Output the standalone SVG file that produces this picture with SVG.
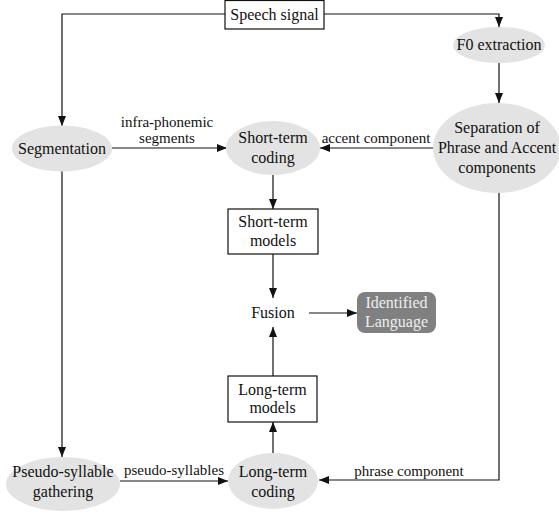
<svg xmlns="http://www.w3.org/2000/svg" width="559" height="514" viewBox="0 0 559 514">
<style>
text{fill:#111;text-anchor:middle}
.n{font-size:16px}
.l{font-size:15px}
.ell{fill:#e3e3e3;stroke:none}
.box{fill:#fff;stroke:#111;stroke-width:1.2}
.c{fill:none;stroke:#111;stroke-width:1.2;marker-end:url(#ah)}
</style>
<defs>
<marker id="ah" viewBox="0 0 10 8" refX="10" refY="4" markerWidth="10" markerHeight="8" markerUnits="userSpaceOnUse" orient="auto">
<path d="M0,0 L10,4 L0,8 z" fill="#111"/>
</marker>
</defs>
<g font-family="Liberation Serif, Times New Roman, serif">
<g id="connectors">
<path class="c" d="M225,14 H62 V126"/>
<path class="c" d="M324,14 H499 V27"/>
<path class="c" d="M499,63 V103"/>
<path class="c" d="M112,148 H227"/>
<path class="c" d="M433,148 H320"/>
<path class="c" d="M273,175 V209"/>
<path class="c" d="M273,254 V298"/>
<path class="c" d="M309,313 H357"/>
<path class="c" d="M273,376 V327"/>
<path class="c" d="M273,453 V422"/>
<path class="c" d="M62,171 V457"/>
<path class="c" d="M120,481 H228"/>
<path class="c" d="M499,193 V480 H319"/>
<text class="l" x="167" y="127">infra-phonemic</text>
<text class="l" x="167" y="143">segments</text>
<text class="l" x="376" y="143">accent component</text>
<text class="l" x="174" y="475">pseudo-syllables</text>
<text class="l" x="409" y="476">phrase component</text>
</g>
<g id="speech">
<rect class="box" x="225" y="0.5" width="99" height="28.5"/>
<text class="n" x="274.5" y="20">Speech signal</text>
</g>
<g id="f0">
<ellipse class="ell" cx="499" cy="45" rx="46" ry="18"/>
<text class="n" x="499" y="50">F0 extraction</text>
</g>
<g id="separation">
<ellipse class="ell" cx="497" cy="148" rx="64" ry="45"/>
<text class="n" x="497" y="133">Separation of</text>
<text class="n" x="497" y="153">Phrase and Accent</text>
<text class="n" x="497" y="173">components</text>
</g>
<g id="segmentation">
<ellipse class="ell" cx="62" cy="148.5" rx="50" ry="23"/>
<text class="n" x="62" y="154">Segmentation</text>
</g>
<g id="stcoding">
<ellipse class="ell" cx="273" cy="148" rx="47" ry="27"/>
<text class="n" x="273" y="143">Short-term</text>
<text class="n" x="273" y="163">coding</text>
</g>
<g id="stmodels">
<rect class="box" x="228" y="209" width="90" height="45"/>
<text class="n" x="273" y="227">Short-term</text>
<text class="n" x="273" y="246">models</text>
</g>
<g id="fusion">
<text class="n" x="273" y="318">Fusion</text>
</g>
<g id="identified">
<rect x="357" y="292" width="79" height="41" rx="8" fill="#808080"/>
<text class="n" x="396.5" y="308" style="fill:#eeeeee">Identified</text>
<text class="n" x="396.5" y="327" style="fill:#eeeeee">Language</text>
</g>
<g id="ltmodels">
<rect class="box" x="228" y="376" width="89" height="46"/>
<text class="n" x="272.5" y="395">Long-term</text>
<text class="n" x="272.5" y="413">models</text>
</g>
<g id="ltcoding">
<ellipse class="ell" cx="273" cy="481" rx="45" ry="28"/>
<text class="n" x="273" y="477">Long-term</text>
<text class="n" x="273" y="497">coding</text>
</g>
<g id="pseudo">
<ellipse class="ell" cx="63" cy="484" rx="57" ry="27"/>
<text class="n" x="63" y="477">Pseudo-syllable</text>
<text class="n" x="63" y="497">gathering</text>
</g>
</g>
</svg>
